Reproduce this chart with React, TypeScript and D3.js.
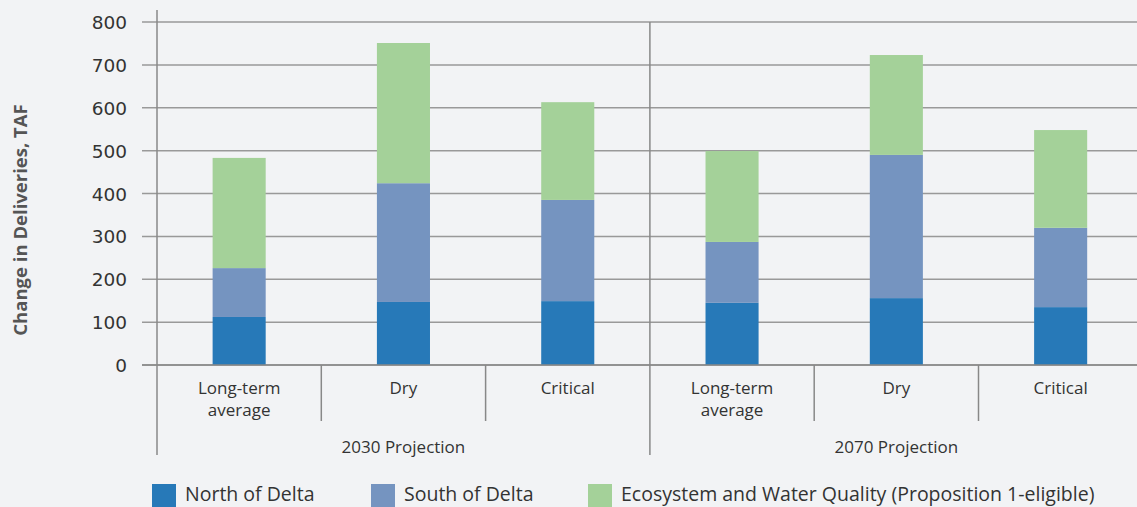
import React, { useRef, useEffect } from "react";
import * as d3 from "d3";

const conditions = ["Long-term average", "Dry", "Critical"];
const projections = ["2030 Projection", "2070 Projection"];
const northOfDelta = [112, 147, 149, 145, 156, 135];
const southOfDelta = [114, 277, 236, 142, 334, 185];
const ecosystem = [257, 327, 228, 212, 233, 228];
const yTicks = [0, 100, 200, 300, 400, 500, 600, 700, 800];
const seriesNames = ["North of Delta", "South of Delta", "Ecosystem and Water Quality (Proposition 1-eligible)"];
const seriesColors = ["#2779b8", "#7594c0", "#a4d199"];

const width = 1137;
const height = 507;

const App: React.FC = () => {
    const svgRef = useRef<SVGSVGElement | null>(null);

    useEffect(() => {
        if (!svgRef.current) return;
        const svg = d3.select(svgRef.current);
        svg.selectAll("*").remove();

        const font = "'Open Sans', sans-serif";
        const left = 157;
        const catW = 164.3;
        const zeroY = 365;
        const topY = 22;

        svg.append("rect").attr("width", width).attr("height", height).attr("fill", "#f2f3f5");

        // one slot per bar, both projections in a row
        const keys = d3.range(projections.length * conditions.length).map(String);
        const x = d3
            .scaleBand()
            .domain(keys)
            .range([left, left + catW * keys.length])
            .padding(0);
        const y = d3.scaleLinear().domain([0, 800]).range([zeroY, topY]);

        // gridlines
        svg.append("g")
            .selectAll("line")
            .data(yTicks)
            .enter()
            .append("line")
            .attr("x1", 142)
            .attr("x2", width)
            .attr("y1", (d) => y(d))
            .attr("y2", (d) => y(d))
            .attr("stroke", "#999")
            .attr("stroke-width", 1.5);

        svg.append("g")
            .selectAll("text")
            .data(yTicks)
            .enter()
            .append("text")
            .attr("x", 127)
            .attr("y", (d) => y(d) + 7)
            .attr("text-anchor", "end")
            .attr("font-family", "'DejaVu Sans', sans-serif")
            .attr("font-size", 18.5)
            .attr("fill", "#333")
            .text((d) => d);

        svg.append("text")
            .attr("transform", `translate(27,220) rotate(-90)`)
            .attr("text-anchor", "middle")
            .attr("font-family", font)
            .attr("font-weight", "bold")
            .attr("font-size", 18.5)
            .attr("fill", "#555")
            .text("Change in Deliveries, TAF");

        // stacked bars
        const rows = keys.map((k, i) => ({
            key: k,
            north: northOfDelta[i],
            south: southOfDelta[i],
            eco: ecosystem[i],
        }));
        const stack = d3.stack<any>().keys(["north", "south", "eco"]);
        const layers = stack(rows);
        const barW = x.bandwidth() * 0.323;

        svg.append("g")
            .selectAll("g")
            .data(layers)
            .enter()
            .append("g")
            .attr("fill", (_, i) => seriesColors[i])
            .selectAll("rect")
            .data((d) => d)
            .enter()
            .append("rect")
            .attr("x", (d) => x(d.data.key)! + (x.bandwidth() - barW) / 2)
            .attr("y", (d) => y(d[1]))
            .attr("width", barW)
            .attr("height", (d) => y(d[0]) - y(d[1]));

        // axes and separators
        const axisColor = "#888";
        svg.append("line").attr("x1", 142).attr("x2", width).attr("y1", zeroY).attr("y2", zeroY)
            .attr("stroke", axisColor).attr("stroke-width", 1.5);
        svg.append("line").attr("x1", left).attr("x2", left).attr("y1", 10).attr("y2", 455)
            .attr("stroke", axisColor).attr("stroke-width", 1.5);

        projections.forEach((p, pi) => {
            const x0 = x(String(pi * conditions.length))!;
            const groupW = x.bandwidth() * conditions.length;
            if (pi > 0) {
                svg.append("line").attr("x1", x0).attr("x2", x0).attr("y1", topY).attr("y2", 455)
                    .attr("stroke", axisColor).attr("stroke-width", 1.5);
            }
            svg.append("text")
                .attr("x", x0 + groupW / 2)
                .attr("y", 453)
                .attr("text-anchor", "middle")
                .attr("font-family", font)
                .attr("font-size", 17)
                .attr("fill", "#333")
                .text(p);

            conditions.forEach((c, ci) => {
                const k = String(pi * conditions.length + ci);
                const bx = x(k)!;
                if (ci > 0) {
                    svg.append("line").attr("x1", bx).attr("x2", bx).attr("y1", zeroY).attr("y2", 421)
                        .attr("stroke", axisColor).attr("stroke-width", 1.5);
                }
                const words = c === "Long-term average" ? ["Long-term", "average"] : [c];
                words.forEach((w, wi) => {
                    svg.append("text")
                        .attr("x", bx + x.bandwidth() / 2)
                        .attr("y", 394 + wi * 22)
                        .attr("text-anchor", "middle")
                        .attr("font-family", font)
                        .attr("font-size", 17)
                        .attr("fill", "#333")
                        .text(w);
                });
            });
        });

        // legend
        const legendX = [152, 371, 588];
        const legend = svg.append("g");
        seriesNames.forEach((name, i) => {
            legend.append("rect").attr("x", legendX[i]).attr("y", 484).attr("width", 24).attr("height", 24)
                .attr("fill", seriesColors[i]);
            legend.append("text")
                .attr("x", legendX[i] + 33)
                .attr("y", 501)
                .attr("font-family", font)
                .attr("font-size", 19.5)
                .attr("fill", "#333")
                .text(name);
        });
    }, []);

    return (
        <svg
            ref={svgRef}
            width={width}
            height={height}
            style={{ position: "absolute", left: 0, top: 0, display: "block" }}
        ></svg>
    );
};

export default App;
